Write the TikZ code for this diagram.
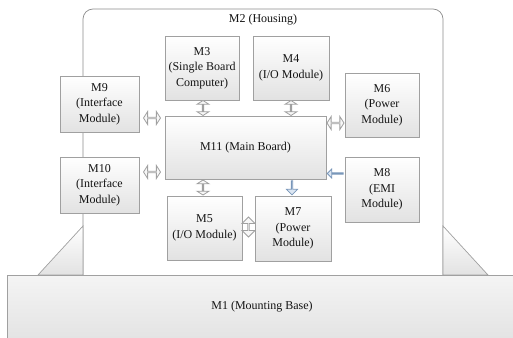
\documentclass[tikz,border=0pt]{standalone}
\usepackage{fontspec}
\setmainfont{Liberation Serif}
\usetikzlibrary{shapes.arrows,calc}
\definecolor{bord}{RGB}{160,160,160}
\definecolor{hbord}{RGB}{140,140,140}
\definecolor{boxbot}{RGB}{226,226,226}
\definecolor{basetop}{RGB}{244,244,244}
\definecolor{basebot}{RGB}{226,226,226}
\definecolor{bluefill}{RGB}{220,230,242}
\definecolor{blueline}{RGB}{120,150,185}
\definecolor{txt}{RGB}{20,20,20}
\begin{document}
\begin{tikzpicture}[x=1pt,y=-1pt,
  font=\fontsize{12}{15.5}\selectfont, text=txt,
  modbox/.style={draw=bord, line width=0.7pt, top color=white, bottom color=boxbot,
    align=center, inner sep=1pt, minimum width=#1},
  dbl/.style={double arrow, draw=bord, line width=0.8pt, fill=gray!6, inner sep=0pt,
    minimum height=17pt, minimum width=13pt, double arrow head extend=3.5pt,
    double arrow tip angle=115},
  dblv/.style={dbl, shape border rotate=90, minimum height=15pt, minimum width=12pt},
  sgl/.style={single arrow, draw=blueline, line width=0.8pt, fill=bluefill, inner sep=0pt,
    minimum height=14pt, minimum width=11pt, single arrow head extend=3pt}
]
\useasboundingbox (0,0) rectangle (513,337);
% housing
\draw[draw=hbord, line width=0.7pt, fill=white, rounded corners=10pt] (83,9) rectangle (443,290);
\node (m2) at (263,20) {M2 (Housing)};
% supports
\shade[top color=white, bottom color=basebot, draw=bord, line width=0.7pt] (38,275) -- (83,226) -- (83,275) -- cycle;
\shade[top color=white, bottom color=basebot, draw=bord, line width=0.7pt] (443,226) -- (488,275) -- (443,275) -- cycle;
% base
\node[draw=bord, line width=0.7pt, top color=basetop, bottom color=basebot,
  minimum width=520pt, minimum height=70pt, anchor=north west, inner sep=0pt] (m1box) at (7,275) {};
\node (m1) at (262,307) {M1 (Mounting Base)};
% modules
\node[modbox=74pt, minimum height=64pt] (m3) at (202,68) {M3\\(Single Board\\Computer)};
\node[modbox=76pt, minimum height=64pt] (m4) at (291,68) {M4\\(I/O Module)};
\node[modbox=79pt, minimum height=56pt] (m9) at (99.5,104) {M9\\(Interface\\Module)};
\node[modbox=161pt, minimum height=63pt] (m11) at (245.5,147.5) {M11 (Main Board)};
\node[modbox=74pt, minimum height=64pt] (m6) at (382,105) {M6\\(Power\\Module)};
\node[modbox=79pt, minimum height=56pt] (m10) at (99.5,185) {M10\\(Interface\\Module)};
\node[modbox=74pt, minimum height=65pt] (m8) at (382,189.5) {M8\\(EMI\\Module)};
\node[modbox=75pt, minimum height=64pt] (m5) at (204.5,228) {M5\\(I/O Module)};
\node[modbox=76pt, minimum height=65pt] (m7) at (293,228.5) {M7\\(Power\\Module)};
% connectors (block arrows)
\node[dbl] (a9) at ($(m9.east |- 0,118)!0.5!(m11.west |- 0,118)$) {};
\node[dbl] (a10) at ($(m10.east |- 0,172)!0.5!(m11.west |- 0,172)$) {};
\node[dbl] (a6) at ($(m11.east |- 0,123)!0.5!(m6.west |- 0,123)$) {};
\node[dblv] (a3) at ($(203,0 |- m3.south)!0.5!(203,0 |- m11.north)$) {};
\node[dblv] (a4) at ($(291,0 |- m4.south)!0.5!(291,0 |- m11.north)$) {};
\node[dblv] (a5) at ($(203,0 |- m11.south)!0.5!(203,0 |- m5.north)$) {};
\node[dbl, shape border rotate=90, minimum height=20pt, minimum width=13pt,
  double arrow head extend=3.5pt, double arrow tip angle=90] (a57) at ($(m5.east |- 0,227)!0.5!(m7.west |- 0,227)$) {};
\node[sgl, shape border rotate=270] (a7) at ($(292,0 |- m11.south)!0.5!(292,0 |- m7.north)$) {};
\node[sgl, shape border rotate=180, minimum height=16pt, minimum width=9pt, single arrow head extend=2.5pt] (a8) at ($(m11.east |- 0,173.5)!0.5!(m8.west |- 0,173.5)$) {};
\end{tikzpicture}
\end{document}
